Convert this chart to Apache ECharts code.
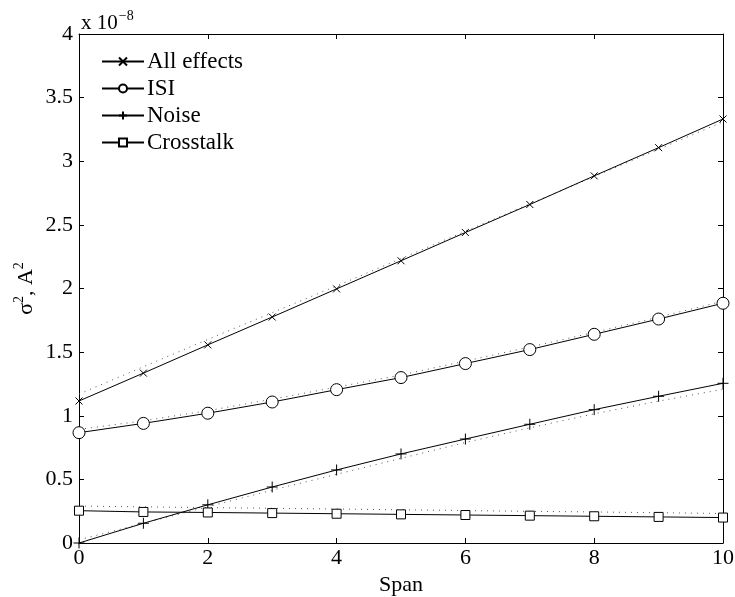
<!DOCTYPE html>
<html>
<head>
<meta charset="utf-8">
<script src="https://cdn.jsdelivr.net/npm/echarts@6/dist/echarts.min.js"></script>
<style>
  html, body { margin: 0; padding: 0; background: #fff; }
  #main { width: 735px; height: 597px; }
</style>
</head>
<body>
<div id="main"></div>
<script>
// data (units of 1e-8 A^2)
var spans = [0, 1, 2, 3, 4, 5, 6, 7, 8, 9, 10];
var allEffects = [1.116, 1.335, 1.557, 1.776, 1.997, 2.218, 2.44, 2.66, 2.885, 3.107, 3.332];
var isi = [0.867, 0.94, 1.02, 1.108, 1.205, 1.30, 1.41, 1.52, 1.64, 1.76, 1.884];
var noise = [0, 0.155, 0.30, 0.44, 0.574, 0.70, 0.817, 0.933, 1.048, 1.153, 1.255];
var crosstalk = [0.254, 0.244, 0.24, 0.235, 0.23, 0.225, 0.22, 0.215, 0.21, 0.205, 0.2];
// dotted approximations
var fitAll = [1.17, 1.385, 1.6, 1.81, 2.02, 2.235, 2.45, 2.665, 2.88, 3.095, 3.31];
var fitIsi = [0.893, 0.96, 1.04, 1.13, 1.225, 1.32, 1.43, 1.54, 1.655, 1.775, 1.9];
var fitNoise = [0.025, 0.155, 0.285, 0.415, 0.54, 0.665, 0.79, 0.905, 1.015, 1.115, 1.208];
var fitCross = [0.29, 0.284, 0.278, 0.273, 0.267, 0.261, 0.255, 0.249, 0.244, 0.238, 0.232];

var font = 'Liberation Serif';
var circlePath = 'path://M10,5A5,5,0,1,1,0,5A5,5,0,1,1,10,5Z';
var rectPath = 'path://M0,0L10,0L10,10L0,10Z';
var crossPath = 'path://M0,0L10,10M10,0L0,10';
var plusPath = 'path://M5,0L5,10M0,5L10,5';

function pairs(ys) {
    return spans.map(function (x, i) { return [x, ys[i]]; });
}

function solid(name, ys, symbol, size) {
    return {
        name: name,
        type: 'line',
        data: pairs(ys),
        symbol: symbol,
        symbolSize: size,
        showAllSymbol: true,
        lineStyle: { color: '#000', width: 1 },
        itemStyle: { color: '#fff', borderColor: '#000', borderWidth: 1 },
        z: 3,
        animation: false
    };
}

function dotted(ys) {
    return {
        type: 'line',
        data: pairs(ys),
        symbol: 'none',
        lineStyle: { color: '#555', width: 1, type: [1, 5] },
        z: 2,
        animation: false,
        silent: true
    };
}

window.onload = function () {
    var myChart = echarts.init(document.getElementById('main'));

    var axisCommon = {
        type: 'value',
        axisLine: { show: true, onZero: false, lineStyle: { color: '#000', width: 1 } },
        axisTick: { show: true, inside: true, length: 5, lineStyle: { color: '#000' } },
        splitLine: { show: false }
    };

    var option = {
        backgroundColor: '#fff',
        textStyle: { fontFamily: font },
        title: {
            text: 'x 10{sup|−8}',
            left: 76,
            top: 4,
            textStyle: {
                fontFamily: font, fontSize: 21, fontWeight: 'normal', color: '#000',
                rich: { sup: { fontFamily: font, fontSize: 14, color: '#000', padding: [0, 0, 15, 1] } }
            }
        },
        legend: {
            data: ['All effects', 'ISI', 'Noise', 'Crosstalk'],
            orient: 'vertical',
            left: 101,
            top: 50,
            padding: 0,
            itemWidth: 42,
            itemHeight: 10,
            itemGap: 4,
            textStyle: { fontFamily: font, fontSize: 23, lineHeight: 20, color: '#000', padding: [0, 0, 0, -2] }
        },
        grid: { left: 79, right: 12, top: 34, bottom: 54, outerBoundsMode: 'none' },
        xAxis: [
            Object.assign({}, axisCommon, {
                min: 0, max: 10, interval: 2,
                name: 'Span',
                nameLocation: 'middle',
                nameGap: 31,
                nameTextStyle: { fontFamily: font, fontSize: 22, color: '#000' },
                axisLabel: { fontFamily: font, fontSize: 22, color: '#000', margin: 4 }
            }),
            Object.assign({}, axisCommon, {
                position: 'top', min: 0, max: 10, interval: 2,
                axisLabel: { show: false }
            })
        ],
        yAxis: [
            Object.assign({}, axisCommon, {
                min: 0, max: 4, interval: 0.5,
                name: 'σ{sup|2}, A{sup|2}',
                nameLocation: 'middle',
                nameGap: 38,
                nameMoveOverlap: false,
                nameRotate: 90,
                nameTextStyle: {
                    fontFamily: font, fontSize: 22, color: '#000',
                    rich: { sup: { fontFamily: font, fontSize: 14, color: '#000', padding: [0, 0, 15, 0] } }
                },
                axisLabel: { fontFamily: font, fontSize: 22, color: '#000', margin: 6 }
            }),
            Object.assign({}, axisCommon, {
                position: 'right', min: 0, max: 4, interval: 0.5,
                axisLabel: { show: false }
            })
        ],
        series: [
            dotted(fitAll),
            dotted(fitIsi),
            dotted(fitNoise),
            dotted(fitCross),
            solid('All effects', allEffects, crossPath, 7),
            solid('ISI', isi, circlePath, 12),
            solid('Noise', noise, plusPath, 11),
            solid('Crosstalk', crosstalk, rectPath, 9)
        ]
    };
    myChart.setOption(option);
    window.addEventListener('resize', function () {
        myChart.resize();
    });
};
</script>
</body>
</html>
